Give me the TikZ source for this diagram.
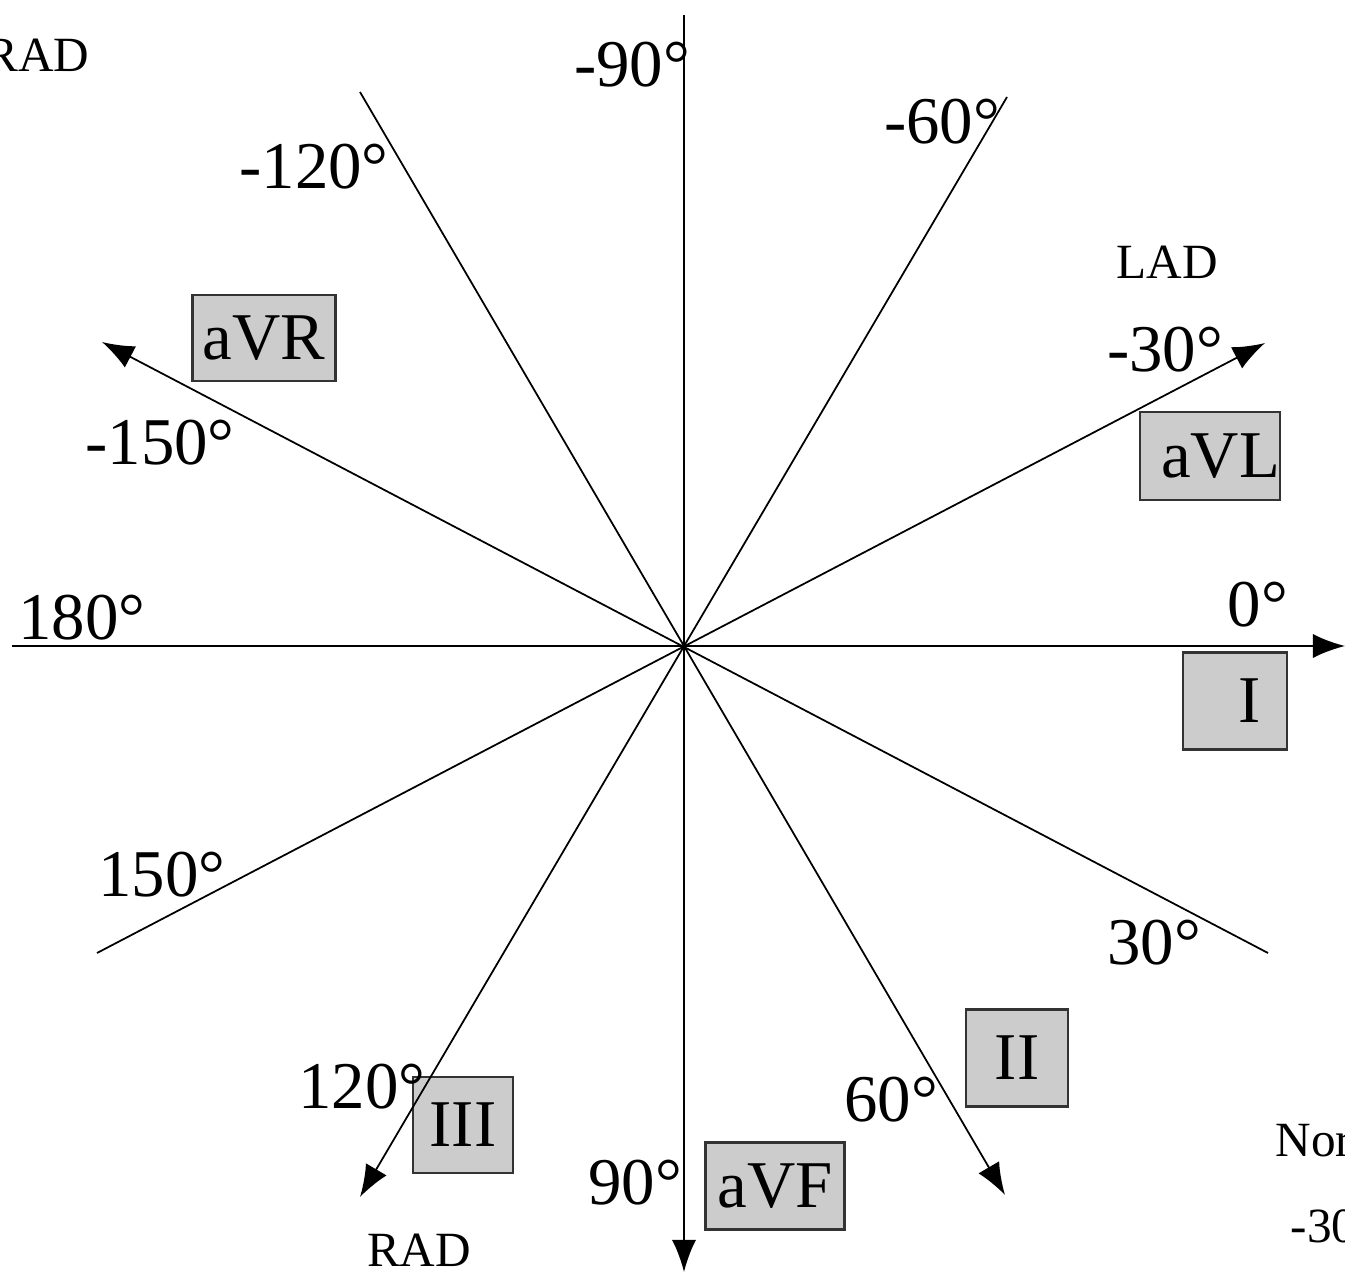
\documentclass[tikz,border=0pt]{standalone}
\usepackage{fontspec}
\setmainfont{Liberation Serif}
\usetikzlibrary{arrows.meta}

\begin{document}
\begin{tikzpicture}[
        x=0.01cm, y=-0.01cm,
        axis/.style={line width=0.5pt},
        arrow/.style={axis, -{Latex[length=3.2mm, width=2.4mm]}},
        deg/.style={inner sep=0, font=\fontsize{19}{22}\selectfont},
        zone/.style={inner sep=0, font=\fontsize{14}{16}\selectfont},
        lead/.style={rectangle, draw=black!80, line width=0.6pt, fill=black!20,
                     inner sep=0, font=\fontsize{19}{22}\selectfont},
    ]
        \useasboundingbox (0,0) rectangle (1345,1276);

        % lead boxes
        \node[lead, minimum width=1.43cm, minimum height=0.86cm] (aVR) at (264,338) {aVR};
        \node[lead, minimum width=1.40cm, minimum height=0.88cm,
              text width=1.40cm, align=right] (aVL) at (1210,456) {aVL};
        \node[lead, minimum width=1.04cm, minimum height=0.97cm] (I) at (1235,701) {\hspace*{0.3cm}I};
        \node[lead, minimum width=1.02cm, minimum height=0.97cm] (II) at (1017,1058) {II};
        \node[lead, minimum width=1.00cm, minimum height=0.96cm] (III) at (463,1125) {III};
        \node[lead, minimum width=1.39cm, minimum height=0.87cm] (aVF) at (775,1186) {aVF};

        % axis ends
        \coordinate (O) at (684,646);
        \coordinate (e0) at (1345,646);
        \coordinate (e180) at (12,646);
        \coordinate (e90) at (684,1272);
        \coordinate (em90) at (684,15);
        \coordinate (em60) at (1007,97);
        \coordinate (e120) at (360,1197);
        \coordinate (em120) at (360,92);
        \coordinate (e60) at (1005,1195);
        \coordinate (em30) at (1265,343);
        \coordinate (e150) at (97,953);
        \coordinate (em150) at (102,342);
        \coordinate (e30) at (1268,953);

        \draw[arrow] (e180) -- (e0);
        \draw[arrow] (em90) -- (e90);
        \draw[arrow] (em60) -- (e120);
        \draw[arrow] (em120) -- (e60);
        \draw[arrow] (e150) -- (em30);
        \draw[arrow] (e30) -- (em150);

        % angles
        \node[deg] (lm90) at (632,65) {-90°};
        \node[deg] (lm60) at (942,122) {-60°};
        \node[deg] (lm120) at (314,167) {-120°};
        \node[deg] (lm30) at (1165,350) {-30°};
        \node[deg] (lm150) at (160,443) {-150°};
        \node[deg] (l180) at (82,618) {180°};
        \node[deg] (l0) at (1258,605) {0°};
        \node[deg] (l150) at (162,875) {150°};
        \node[deg] (l30) at (1154,943) {30°};
        \node[deg] (l120) at (362,1087) {120°};
        \node[deg] (l60) at (891,1100) {60°};
        \node[deg] (l90) at (635,1183) {90°};

        % deviation zones
        \node[zone, anchor=east] (radtop) at (90,55) {RAD};
        \node[zone] (lad) at (1167,262) {LAD};
        \node[zone] (radbot) at (419,1250) {RAD};
        \node[zone, anchor=west] (nor) at (1275,1140) {Normal};
        \node[zone, anchor=west] (norrange) at (1290,1226) {-30°};

    \end{tikzpicture}
\end{document}
